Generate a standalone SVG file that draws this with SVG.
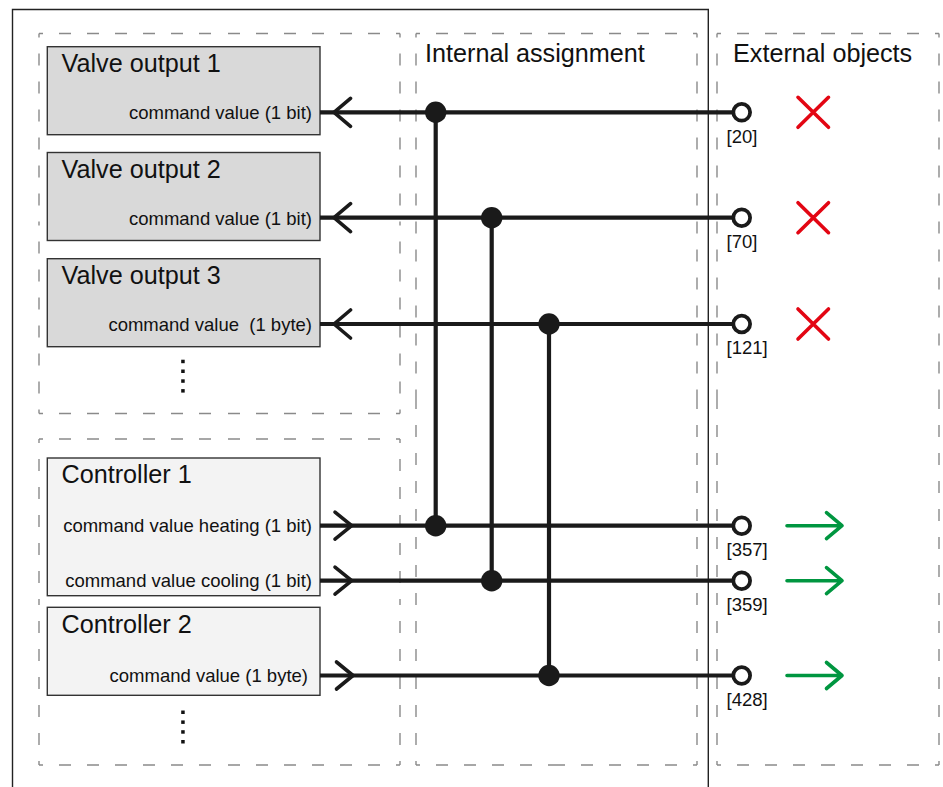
<svg xmlns="http://www.w3.org/2000/svg" width="943" height="787" viewBox="0 0 943 787">
<style>
.dash{fill:none;stroke:#8a8a8a;stroke-width:1.4;stroke-dasharray:12 16;stroke-dashoffset:8}
.outer{fill:none;stroke:#222;stroke-width:1.4}
.vbox{fill:#d9d9d9;stroke:#333;stroke-width:1.4}
.cbox{fill:#f3f3f3;stroke:#333;stroke-width:1.4}
.title{font-family:"Liberation Sans",Arial,sans-serif;font-size:25.2px;fill:#111}
.small{font-family:"Liberation Sans",Arial,sans-serif;font-size:18.5px;fill:#111}
.wire{fill:none;stroke:#1a1a1a;stroke-width:4.2;stroke-linecap:butt}
.chev{fill:none;stroke:#1a1a1a;stroke-width:3.6;stroke-linecap:round;stroke-linejoin:round}
.dot{fill:#1a1a1a}
.port{fill:#fff;stroke:#1a1a1a;stroke-width:3.8}
.x{fill:none;stroke:#e30613;stroke-width:3.6;stroke-linecap:round}
.go{fill:none;stroke:#009640;stroke-width:3.6;stroke-linecap:round;stroke-linejoin:round}
.vd{fill:#111}
</style>

<g id="frame">
<path class="outer" d="M12.5 787 V9.5 H708.3 V787"/>
</g>

<g id="containers">
<path id="valve-area" class="dash" d="M39 33.5 H220 M400 33.5 H220 M400 33.5 V224 M400 413.5 V224 M400 413.5 H220 M39 413.5 H220 M39 413.5 V224 M39 33.5 V224"/>
<path id="controller-area" class="dash" d="M39 439 H220 M400 439 H220 M400 439 V602 M400 765 V602 M400 765 H220 M39 765 H220 M39 765 V602 M39 439 V602"/>
<g id="internal-assignment">
<path class="dash" d="M416 33.5 H556 M697 33.5 H556 M697 33.5 V400 M697 765 V400 M697 765 H556 M416 765 H556 M416 765 V400 M416 33.5 V400"/>
<text class="title" x="425" y="61.5">Internal assignment</text>
</g>
<g id="external-objects">
<path class="dash" d="M717 33.5 H828 M939 33.5 H828 M939 33.5 V400 M939 765 V400 M939 765 H828 M717 765 H828 M717 765 V400 M717 33.5 V400"/>
<text class="title" x="733" y="61.5">External objects</text>
</g>
</g>

<g id="valve-output-1">
<rect class="vbox" x="47.3" y="46.7" width="272.7" height="88"/>
<text class="title" x="61.5" y="72">Valve output 1</text>
<text class="small" x="312" y="119" text-anchor="end">command value (1 bit)</text>
</g>
<g id="valve-output-2">
<rect class="vbox" x="47.3" y="152.5" width="272.7" height="88"/>
<text class="title" x="61.5" y="177.7">Valve output 2</text>
<text class="small" x="312" y="224.5" text-anchor="end">command value (1 bit)</text>
</g>
<g id="valve-output-3">
<rect class="vbox" x="47.3" y="258.7" width="272.7" height="88"/>
<text class="title" x="61.5" y="283.7">Valve output 3</text>
<text class="small" x="312" y="330.7" text-anchor="end" xml:space="preserve">command value  (1 byte)</text>
</g>
<g id="valve-more">
<rect class="vd" x="181.2" y="359.7" width="3.5" height="3.5"/>
<rect class="vd" x="181.2" y="369.5" width="3.5" height="3.5"/>
<rect class="vd" x="181.2" y="379.3" width="3.5" height="3.5"/>
<rect class="vd" x="181.2" y="389.1" width="3.5" height="3.5"/>
</g>

<g id="controller-1">
<rect class="cbox" x="47.3" y="458" width="272.7" height="137.7"/>
<text class="title" x="61.5" y="483">Controller 1</text>
<text class="small" x="312" y="532" text-anchor="end">command value heating (1 bit)</text>
<text class="small" x="312" y="587" text-anchor="end">command value cooling (1 bit)</text>
</g>
<g id="controller-2">
<rect class="cbox" x="47.3" y="607.3" width="272.7" height="88"/>
<text class="title" x="61.5" y="632.5">Controller 2</text>
<text class="small" x="308" y="681.5" text-anchor="end">command value (1 byte)</text>
</g>
<g id="controller-more">
<rect class="vd" x="181.2" y="710.5" width="3.5" height="3.5"/>
<rect class="vd" x="181.2" y="720.4" width="3.5" height="3.5"/>
<rect class="vd" x="181.2" y="730.2" width="3.5" height="3.5"/>
<rect class="vd" x="181.2" y="740" width="3.5" height="3.5"/>
</g>

<g id="connectors">
<path class="wire" d="M320 112.3 H733.5 M320 217.7 H733.5 M320 324 H733.5 M320 525.7 H733.5 M320 580.7 H733.5 M320 675.5 H733.5"/>
<path class="wire" d="M435.7 112.3 V525.7 M491.7 217.7 V580.7 M549 324 V675.5"/>
<path class="chev" d="M350.5 98.3 L334 112.3 L350.5 126.3 M350.5 203.7 L334 217.7 L350.5 231.7 M350.5 310 L334 324 L350.5 338"/>
<path class="chev" d="M335 512.2 L351.7 525.7 L335 539.2 M335 567.2 L351.7 580.7 L335 594.2 M336.5 662 L353 675.5 L336.5 689"/>
<circle class="dot" cx="435.7" cy="112.3" r="10.7"/>
<circle class="dot" cx="491.7" cy="217.7" r="10.7"/>
<circle class="dot" cx="549" cy="324" r="10.7"/>
<circle class="dot" cx="435.7" cy="525.7" r="10.7"/>
<circle class="dot" cx="491.7" cy="580.7" r="10.7"/>
<circle class="dot" cx="549" cy="675.5" r="10.7"/>
</g>

<g id="obj-20">
<circle class="port" cx="741.7" cy="112.3" r="8.4"/>
<text class="small" x="726.5" y="142.5">[20]</text>
<path class="x" d="M798 97.3 L828.5 127.3 M828.5 97.3 L798 127.3"/>
</g>
<g id="obj-70">
<circle class="port" cx="741.7" cy="217.7" r="8.4"/>
<text class="small" x="726.5" y="248">[70]</text>
<path class="x" d="M798 202.7 L828.5 232.7 M828.5 202.7 L798 232.7"/>
</g>
<g id="obj-121">
<circle class="port" cx="741.7" cy="324" r="8.4"/>
<text class="small" x="726.5" y="354.3">[121]</text>
<path class="x" d="M798 309 L828.5 339 M828.5 309 L798 339"/>
</g>
<g id="obj-357">
<circle class="port" cx="741.7" cy="525.7" r="8.4"/>
<text class="small" x="726.5" y="556">[357]</text>
<path class="go" d="M787 525.7 H842 M826.5 512.7 L842 525.7 L826.5 538.7"/>
</g>
<g id="obj-359">
<circle class="port" cx="741.7" cy="580.7" r="8.4"/>
<text class="small" x="726.5" y="611">[359]</text>
<path class="go" d="M787 580.7 H842 M826.5 567.7 L842 580.7 L826.5 593.7"/>
</g>
<g id="obj-428">
<circle class="port" cx="741.7" cy="675.5" r="8.4"/>
<text class="small" x="726.5" y="705.8">[428]</text>
<path class="go" d="M787 675.5 H842 M826.5 662.5 L842 675.5 L826.5 688.5"/>
</g>
</svg>
